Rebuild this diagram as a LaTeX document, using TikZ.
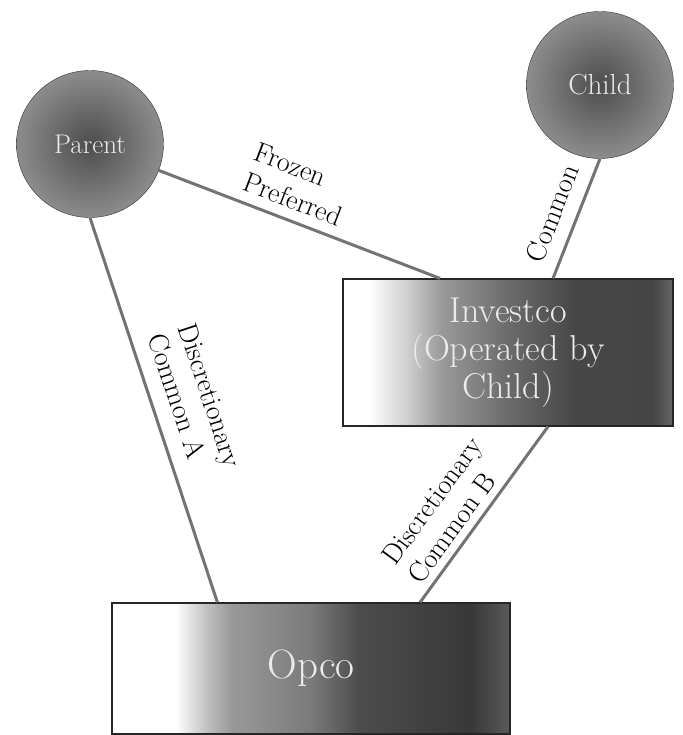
\documentclass[tikz,border=0pt]{standalone}
\usepackage{tikz}
\usetikzlibrary{positioning,calc}

\pgfdeclarehorizontalshading{investshade}{100bp}{color(0bp)=(white); color(25bp)=(white); color(29bp)=(white); color(35bp)=(black!20); color(40bp)=(black!40); color(50bp)=(black!58); color(60bp)=(black!72); color(72bp)=(black!73); color(75bp)=(black!60); color(100bp)=(black!60)}
\pgfdeclarehorizontalshading{opcoshade}{100bp}{color(0bp)=(white); color(25bp)=(white); color(33bp)=(white); color(37bp)=(black!25); color(40bp)=(black!40); color(50bp)=(black!52); color(56bp)=(black!70); color(70bp)=(black!78); color(75bp)=(black!65); color(100bp)=(black!65)}

\tikzset{
    entity/.style={circle, draw=black!80, thin, inner color=black!70, outer color=black!45,
        text=white!92!black, minimum size=147pt},
    company/.style={rectangle, draw=black!85, line width=1.2pt,
        text=white!92!black, align=center},
    link/.style={draw=black!55, line width=3pt},
    tag/.style={font=\fontsize{28}{32}\selectfont, align=left, sloped, inner sep=7pt}
}

\begin{document}
\begin{tikzpicture}[x=1pt,y=-1pt]
    \useasboundingbox (0,0) rectangle (682,735);
    % shareholders
    \node[entity, font=\fontsize{27}{29}\selectfont] (parent) at (90,144) {Parent};
    \node[entity, font=\fontsize{29}{31}\selectfont] (child) at (600,85) {Child};
    % companies
    \node[company, shading=investshade, minimum width=330pt, minimum height=147pt,
        font=\fontsize{36}{38}\selectfont] (investco) at (508,352.5) {Investco\\(Operated by\\Child)};
    \node[company, shading=opcoshade, minimum width=398pt, minimum height=131pt,
        font=\fontsize{41}{43}\selectfont] (opco) at (311,668.5) {Opco};
    % share links
    \draw[link] (parent) -- node[tag, above=3pt, pos=0.45] {Frozen\\Preferred} ([xshift=-68pt]investco.north);
    \draw[link] (child.south) -- node[tag, above=6pt, pos=0.53] {Common} ([xshift=45pt]investco.north);
    \draw[link] (parent.south) -- node[tag, above=8pt, pos=0.51] {Discretionary\\Common A} ([xshift=106pt]opco.north west);
    \draw[link] ([xshift=40pt]investco.south) -- node[tag, above, pos=0.59] {Discretionary\\Common B} ([xshift=109pt]opco.north);
\end{tikzpicture}
\end{document}
